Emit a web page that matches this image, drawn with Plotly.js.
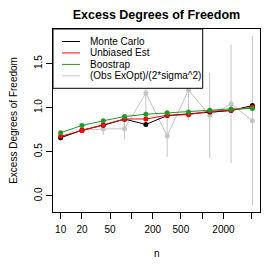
<!DOCTYPE html>
<html>
<head>
<meta charset="utf-8">
<script src="https://cdn.plot.ly/plotly-3.0.1.min.js"></script>
<style>html,body{margin:0;padding:0;background:#fff;}#chart{width:266px;height:266px;}</style>
</head>
<body>
<div id="chart"></div>
<script>
// ---- data ----
var nValues = [10, 20, 40, 80, 160, 320, 640, 1280, 2560, 5120];
var monteCarlo = [0.66, 0.745, 0.80, 0.87, 0.81, 0.91, 0.93, 0.952, 0.967, 1.024];
var unbiasedEst = [0.675, 0.74, 0.807, 0.872, 0.872, 0.913, 0.921, 0.96, 0.97, 1.005];
var bootstrap = [0.715, 0.798, 0.851, 0.90, 0.925, 0.941, 0.952, 0.97, 0.986, 0.99];
var obsExOpt = [0.655, 0.745, 0.758, 0.761, 1.165, 0.68, 1.199, 0.913, 1.043, 0.853];
var obsExOptErr = [0.02, 0.03, 0.065, 0.12, 0.35, 0.235, 0.34, 0.485, 0.67, 0.96];
var seriesNames = ["Monte Carlo", "Unbiased Est", "Boostrap", "(Obs ExOpt)/(2*sigma^2)"];
var xTickVals = [10, 20, 50, 100, 200, 500, 1000, 2000, 5000];
var xTickText = ["10", "20", "50", "", "200", "500", "", "2000", ""];
var yTickVals = [0, 0.5, 1, 1.5];
var yTickText = ["0.0", "0.5", "1.0", "1.5"];

var colors = ["#000000", "#FF0000", "#22962A", "#C4C4C4"];
var FONT = "Liberation Sans, Arial, Helvetica, sans-serif";

// plot geometry (pixels)
var L = 53, R = 6, T = 29, B = 54, W = 266, H = 266;
var pw = W - L - R, ph = H - T - B;
function px(x) { return (x - L) / pw; }
function py(y) { return (H - B - y) / ph; }

var gray = {
  x: nValues, y: obsExOpt, type: "scatter", mode: "lines+markers",
  line: {color: colors[3], width: 1}, marker: {color: colors[3], size: 5},
  error_y: {type: "data", array: obsExOptErr, visible: true, color: colors[3], thickness: 1, width: 0},
  name: seriesNames[3], showlegend: false
};
function mk(y, c, name) {
  return {x: nValues, y: y, type: "scatter", mode: "lines+markers",
    line: {color: c, width: 1}, marker: {color: c, size: 5}, name: name, showlegend: false};
}
var traces = [gray, mk(monteCarlo, colors[0], seriesNames[0]), mk(unbiasedEst, colors[1], seriesNames[1]), mk(bootstrap, colors[2], seriesNames[2])];

// manual legend
var shapes = [{type: "rect", xref: "paper", yref: "paper", x0: 0, x1: px(202.7), y0: py(88.3), y1: 1,
  line: {color: "#000", width: 1}, fillcolor: "#fff", layer: "above"}];
var annotations = [];
for (var i = 0; i < seriesNames.length; i++) {
  var yy = py(41.5 + 11.45 * i);
  shapes.push({type: "line", xref: "paper", yref: "paper", x0: px(62), x1: px(80), y0: yy, y1: yy,
    line: {color: colors[i], width: 1}, layer: "above"});
  annotations.push({xref: "paper", yref: "paper", x: px(88), y: yy, xanchor: "left", yanchor: "middle",
    text: seriesNames[i], showarrow: false, font: {family: FONT, size: 10, color: "#000"}});
}
annotations.push({xref: "paper", yref: "paper", x: 0.5, y: py(253), xanchor: "center", yanchor: "middle",
  text: "n", showarrow: false, font: {family: FONT, size: 10, color: "#000"}});
annotations.push({xref: "paper", yref: "paper", x: px(13.3), y: 0.5, xanchor: "center", yanchor: "middle",
  text: "Excess Degrees of Freedom", textangle: -90, showarrow: false, font: {family: FONT, size: 10, color: "#000"}});

var layout = {
  width: W, height: H,
  margin: {l: L, r: R, t: T, b: B, pad: 0},
  paper_bgcolor: "#fff", plot_bgcolor: "#fff",
  font: {family: FONT, size: 10, color: "#000"},
  title: {text: "<b>Excess Degrees of Freedom</b>", font: {family: FONT, size: 12.5, color: "#000"},
    x: 0.5, xref: "paper", xanchor: "center", y: 1 - 15 / H, yref: "container", yanchor: "middle"},
  showlegend: false,
  xaxis: {type: "log", range: [0.892, 3.817], tickvals: xTickVals, ticktext: xTickText,
    ticks: "outside", ticklen: 6, tickcolor: "#000", tickwidth: 1, ticklabelstandoff: 2,
    showline: true, mirror: true, linecolor: "#000", linewidth: 1,
    showgrid: false, zeroline: false, tickfont: {family: FONT, size: 10, color: "#000"}},
  yaxis: {range: [-0.183, 1.892], tickvals: yTickVals, ticktext: yTickText, tickangle: -90,
    ticks: "outside", ticklen: 6, tickcolor: "#000", tickwidth: 1,
    showline: true, mirror: true, linecolor: "#000", linewidth: 1,
    showgrid: false, zeroline: false, tickfont: {family: FONT, size: 10, color: "#000"}},
  shapes: shapes,
  annotations: annotations
};
Plotly.newPlot("chart", traces, layout, {staticPlot: true, displayModeBar: false});
</script>
</body>
</html>
